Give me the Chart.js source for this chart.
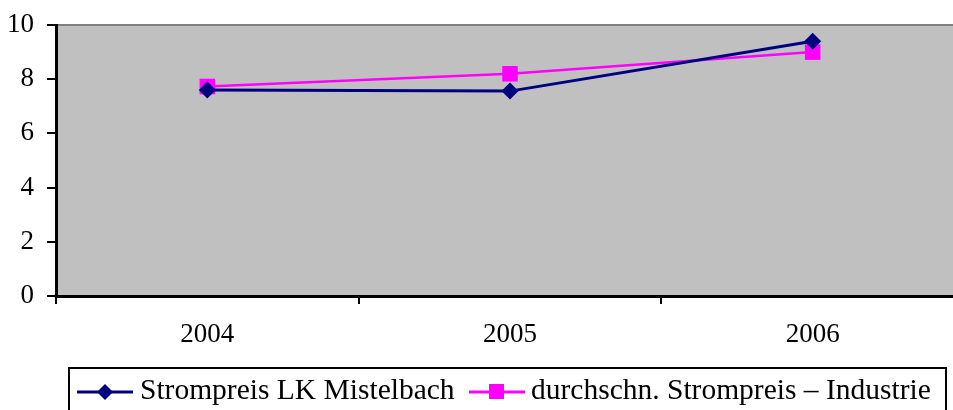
<!DOCTYPE html>
<html>
<head>
<meta charset="utf-8">
<script src="https://cdn.jsdelivr.net/npm/chart.js@4.4.0/dist/chart.umd.min.js"></script>
<style>
  html, body { margin: 0; padding: 0; background: #fff; overflow: hidden; width: 953px; height: 410px; }
  #wrap { position: absolute; left: 0; top: 0; width: 990px; height: 410px; }
  #legend {
    position: absolute; left: 68px; top: 367px; width: 875px; height: 60px;
    border: 2px solid #000; box-sizing: content-box;
    font-family: "Liberation Serif", "Times New Roman", serif; font-size: 29.5px; color: #000;
  }
  .item { position: absolute; top: 5px; height: 30px; line-height: 30px; white-space: nowrap; }
  .mark { position: absolute; top: 8px; }
</style>
</head>
<body>
<div id="wrap"><canvas id="chart" width="975" height="410"></canvas></div>
<div id="legend">
  <svg class="mark" style="left:7px" width="56" height="30">
    <line x1="0" y1="15" x2="56" y2="15" stroke="#000080" stroke-width="3"/>
    <polygon points="20,15 28,7 36,15 28,23" fill="#000080"/>
  </svg>
  <span class="item" style="left:70px">Strompreis LK Mistelbach</span>
  <svg class="mark" style="left:399px" width="56" height="30">
    <line x1="0" y1="15" x2="56" y2="15" stroke="#FF00FF" stroke-width="3"/>
    <rect x="20" y="7" width="15" height="15" fill="#FF00FF"/>
  </svg>
  <span class="item" style="left:461px">durchschn. Strompreis – Industrie</span>
</div>
<script>
// values
const categories = ['2004', '2005', '2006'];
const lkMistelbach = [7.6, 7.56, 9.4];
const industrie = [7.73, 8.2, 9.0];
const yMin = 0, yMax = 10, yStep = 2;

const serif = '"Liberation Serif", "Times New Roman", serif';

// grey plot background + grey top border
const plotBg = {
  id: 'plotBg',
  beforeDraw(chart) {
    const { ctx, chartArea: a } = chart;
    ctx.save();
    ctx.fillStyle = '#C0C0C0';
    ctx.fillRect(a.left, a.top, a.right - a.left, a.bottom - a.top);
    ctx.strokeStyle = '#808080';
    ctx.lineWidth = 2;
    ctx.beginPath();
    ctx.moveTo(a.left, a.top);
    ctx.lineTo(a.right, a.top);
    ctx.stroke();
    ctx.restore();
  }
};

new Chart(document.getElementById('chart').getContext('2d'), {
  type: 'line',
  data: {
    labels: categories,
    datasets: [{
      label: 'Strompreis LK Mistelbach',
      data: lkMistelbach,
      borderColor: '#000080',
      backgroundColor: '#000080',
      borderWidth: 3,
      pointStyle: 'rectRot',
      pointRadius: 8.5,
      pointBorderWidth: 0,
      tension: 0
    }, {
      label: 'durchschn. Strompreis – Industrie',
      data: industrie,
      borderColor: '#FF00FF',
      backgroundColor: '#FF00FF',
      borderWidth: 2.5,
      pointStyle: 'rect',
      pointRadius: 11,
      pointBorderWidth: 0,
      tension: 0
    }]
  },
  options: {
    responsive: false,
    animation: false,
    layout: { padding: { top: 25, left: 0, right: 1, bottom: 0 } },
    plugins: { legend: { display: false }, tooltip: { enabled: false } },
    scales: {
      x: {
        offset: true,
        grid: { offset: true, drawOnChartArea: false, color: '#000', lineWidth: 2, tickLength: 8 },
        border: { display: true, color: '#000', width: 3 },
        ticks: { color: '#000', font: { family: serif, size: 27 }, padding: 15, maxRotation: 0 },
        afterFit(scale) { scale.height = 114; }
      },
      y: {
        min: yMin, max: yMax,
        grid: { drawOnChartArea: false, color: '#000', lineWidth: 2, tickLength: 9 },
        border: { display: true, color: '#000', width: 3 },
        ticks: { stepSize: yStep, color: '#000', font: { family: serif, size: 27 }, padding: 13 },
        afterFit(scale) {
          scale.width = 56;
          scale.paddingTop = 0;
          scale.paddingBottom = 0;
        }
      }
    }
  },
  plugins: [plotBg]
});
</script>
</body>
</html>
